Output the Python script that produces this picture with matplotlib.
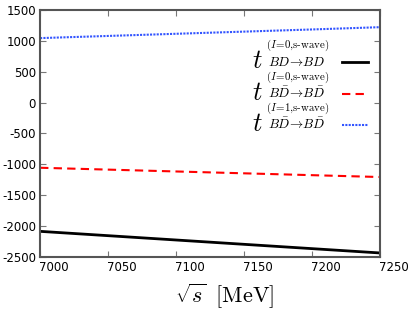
import numpy as np
import matplotlib.pyplot as plt
import matplotlib.transforms as mtransforms
from matplotlib.lines import Line2D

plt.rcParams['mathtext.fontset'] = 'cm'
plt.rcParams['font.family'] = 'DejaVu Sans'
plt.rcParams['axes.unicode_minus'] = False

# data
sqrt_s = [7000, 7050, 7100, 7150, 7200, 7250]
t_bd_i0 = [-2085, -2155, -2225, -2295, -2365, -2435]
t_bdbar_i0 = [-1055, -1085, -1115, -1145, -1175, -1205]
t_bdbar_i1 = [1045, 1080, 1115, 1150, 1185, 1222]

sup_labels = [
    r'$(I\!=\!0,\!\mathrm{s\text{-}wave})$',
    r'$(I\!=\!0,\!\mathrm{s\text{-}wave})$',
    r'$(I\!=\!1,\!\mathrm{s\text{-}wave})$',
]
sub_labels = [
    r'$BD\!\rightarrow\! BD$',
    r'$B\bar{D}\!\rightarrow\! B\bar{D}$',
    r'$B\bar{D}\!\rightarrow\! B\bar{D}$',
]

fig = plt.figure(figsize=(4.09, 3.13), dpi=100)
ax = fig.add_axes([0.098, 0.179, 0.831, 0.789])

styles = [dict(color='black', lw=2, ls='-'),
          dict(color='red', lw=1.5, ls=(0, (4, 2.5))),
          dict(color='#3355ff', lw=1.5, ls=(0, (1, 0.6)))]

for ys, st in zip([t_bd_i0, t_bdbar_i0, t_bdbar_i1], styles):
    ax.plot(sqrt_s, ys, **st)

ax.set_xlim(7000, 7250)
ax.set_ylim(-2500, 1500)
ax.set_xticks(np.arange(7000, 7251, 50))
ax.set_yticks(np.arange(-2500, 1501, 500))

for sp in ax.spines.values():
    sp.set_color('#555555')
    sp.set_linewidth(1.5)
ax.tick_params(direction='in', top=True, right=True, length=4, color='#777777',
               labelsize=8.5, pad=3)

# gnuplot-style tick labels sit a bit to the right of their ticks
offset = mtransforms.ScaledTranslation(14 / 100, 0, fig.dpi_scale_trans)
for lab in ax.get_xticklabels():
    lab.set_transform(lab.get_transform() + offset)

ax.set_xlabel(r'$\sqrt{s}\;\;[\mathrm{MeV}]$', fontsize=16)
ax.xaxis.set_label_coords(0.544, -0.10)

# hand-made legend: big t with small super/subscripts, handle on the right
row_step = 0.1275
for i, st in enumerate(styles):
    dy = i * row_step
    ax.text(0.624, 0.765 - dy, r'$t$', fontsize=19, transform=ax.transAxes,
            va='baseline', ha='left')
    ax.text(0.665, 0.846 - dy, sup_labels[i], fontsize=7.8, transform=ax.transAxes,
            va='baseline', ha='left')
    ax.text(0.671, 0.773 - dy, sub_labels[i], fontsize=9.5, transform=ax.transAxes,
            va='baseline', ha='left')
    ax.add_line(Line2D([0.888, 0.965], [0.789 - dy, 0.789 - dy],
                       transform=ax.transAxes, **st))

fig.savefig('out.png', dpi=100)
